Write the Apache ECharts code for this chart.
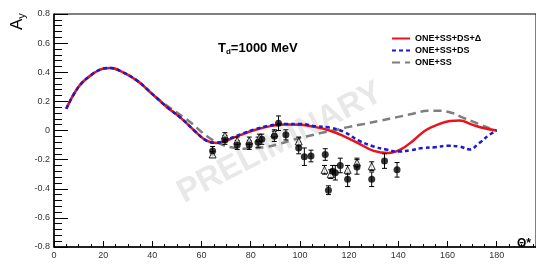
<!DOCTYPE html>
<html>
<head>
<meta charset="utf-8">
<script src="https://cdn.jsdelivr.net/npm/echarts@6/dist/echarts.min.js"></script>
<style>
  html, body { margin: 0; padding: 0; background: #fff; }
  #chart { width: 536px; height: 265px; }
</style>
</head>
<body>
<div id="chart"></div>
<script>
// theory curves: [theta, Ay]
const curveFull = [
  [5, 0.15], [10, 0.30], [15, 0.38], [20, 0.425], [23, 0.43], [28, 0.40], [34, 0.34],
  [40, 0.25], [46, 0.16], [52, 0.08], [57, 0.0], [62, -0.07], [66, -0.085], [70, -0.07],
  [76, -0.03], [82, 0.005], [88, 0.03], [94, 0.042], [100, 0.04], [106, 0.025], [112, 0.0],
  [118, -0.04], [124, -0.09], [130, -0.14], [136, -0.155], [141, -0.13], [146, -0.07],
  [151, 0.0], [156, 0.04], [161, 0.065], [165, 0.068], [170, 0.04], [175, 0.015], [180, 0.0]
];
const curveNoDelta = [
  [5, 0.15], [10, 0.30], [15, 0.38], [20, 0.425], [23, 0.43], [28, 0.40], [34, 0.34],
  [40, 0.25], [46, 0.16], [52, 0.08], [57, 0.0], [62, -0.07], [66, -0.085], [70, -0.065],
  [76, -0.025], [82, 0.01], [88, 0.035], [94, 0.045], [100, 0.045], [106, 0.03], [112, 0.02],
  [118, -0.01], [124, -0.07], [130, -0.11], [135, -0.13], [140, -0.145], [145, -0.135],
  [150, -0.12], [155, -0.115], [160, -0.105], [165, -0.11], [169, -0.13], [173, -0.085],
  [177, -0.03], [180, 0.0]
];
const curveOneSS = [
  [5, 0.15], [10, 0.30], [15, 0.38], [20, 0.425], [23, 0.43], [28, 0.40], [34, 0.34],
  [40, 0.25], [46, 0.17], [52, 0.10], [56, 0.05], [60, -0.01], [64, -0.06], [68, -0.095],
  [72, -0.115], [77, -0.125], [82, -0.122], [87, -0.11], [92, -0.09], [97, -0.065],
  [103, -0.04], [109, -0.015], [114, 0.0], [120, 0.025], [126, 0.045], [132, 0.065],
  [139, 0.09], [146, 0.115], [152, 0.135], [157, 0.135], [162, 0.12], [166, 0.09],
  [172, 0.05], [178, 0.01], [180, 0.0]
];

// measured points: [theta, Ay, error]
const pointsFilled = [
  [64.5, -0.14, 0.03], [69.5, -0.065, 0.03], [74.5, -0.10, 0.03], [79.4, -0.10, 0.03],
  [83, -0.08, 0.035], [84.5, -0.06, 0.035], [89.6, -0.04, 0.035], [91.3, 0.05, 0.05],
  [94.3, -0.03, 0.035], [99.5, -0.12, 0.04], [101.8, -0.18, 0.06], [104.5, -0.175, 0.04],
  [110.3, -0.165, 0.04], [111.6, -0.41, 0.03], [113.3, -0.28, 0.04], [114.4, -0.29, 0.05],
  [116.4, -0.24, 0.05], [119.4, -0.335, 0.05], [123.2, -0.25, 0.05], [129.2, -0.335, 0.05],
  [134.4, -0.21, 0.05], [139.5, -0.27, 0.05]
];
const pointsOpen = [
  [64.5, -0.165, 0.02], [69.5, -0.035, 0.02], [74.5, -0.07, 0.025], [79.4, -0.07, 0.025],
  [83.5, -0.05, 0.025], [89.6, -0.02, 0.025], [99.5, -0.075, 0.03], [110.0, -0.27, 0.03],
  [112.5, -0.30, 0.03], [119.4, -0.27, 0.03], [123.2, -0.22, 0.03], [129.2, -0.245, 0.03]
];

const seriesNames = ['ONE+SS+DS+\u0394', 'ONE+SS+DS', 'ONE+SS'];
const xTicks = [0, 20, 40, 60, 80, 100, 120, 140, 160, 180];
const yTicks = [-0.8, -0.6, -0.4, -0.2, 0, 0.2, 0.4, 0.6, 0.8];

const chart = echarts.init(document.getElementById('chart'));

function errorBars(data) {
  return {
    type: 'custom',
    data: data,
    z: 4,
    silent: true,
    renderItem: function (params, api) {
      const x = api.value(0), y = api.value(1), e = api.value(2);
      const lo = api.coord([x, y - e]);
      const hi = api.coord([x, y + e]);
      const style = { stroke: '#000', lineWidth: 1 };
      return {
        type: 'group',
        children: [
          { type: 'line', shape: { x1: lo[0], y1: lo[1], x2: hi[0], y2: hi[1] }, style: style },
          { type: 'line', shape: { x1: lo[0] - 2.5, y1: lo[1], x2: lo[0] + 2.5, y2: lo[1] }, style: style },
          { type: 'line', shape: { x1: hi[0] - 2.5, y1: hi[1], x2: hi[0] + 2.5, y2: hi[1] }, style: style }
        ]
      };
    }
  };
}

const font = 'Liberation Sans, Arial, sans-serif';

const option = {
  animation: false,
  grid: { left: 54, right: 0, top: 14, bottom: 18, show: true, borderColor: '#000', borderWidth: 1 },
  legend: {
    data: seriesNames,
    orient: 'vertical',
    left: 386,
    top: 29,
    itemWidth: 18,
    itemHeight: 10,
    itemGap: 3,
    itemStyle: { opacity: 0 },
    textStyle: { fontFamily: font, fontSize: 9, fontWeight: 'bold', color: '#000' }
  },
  xAxis: {
    type: 'value',
    min: 0,
    max: 196,
    interval: 20,
    axisLine: { onZero: false, lineStyle: { color: '#000', width: 1.5 } },
    axisTick: { inside: true, length: 6, lineStyle: { color: '#000' } },
    minorTick: { show: true, splitNumber: 4, length: 3, lineStyle: { color: '#000' } },
    splitLine: { show: false },
    axisLabel: {
      showMaxLabel: false,
      fontFamily: font, fontSize: 9, color: '#333', margin: 4,
      formatter: function (v) { return xTicks.indexOf(v) >= 0 ? String(v) : ''; }
    }
  },
  yAxis: {
    type: 'value',
    min: -0.8,
    max: 0.8,
    interval: 0.2,
    axisLine: { show: true, onZero: false, lineStyle: { color: '#000', width: 1.5 } },
    axisTick: { show: true, inside: true, length: 14, lineStyle: { color: '#000' } },
    minorTick: { show: true, splitNumber: 5, length: 8, lineStyle: { color: '#000' } },
    splitLine: { show: false },
    axisLabel: {
      fontFamily: font, fontSize: 9, color: '#333', margin: 4,
      formatter: function (v) {
        const r = Math.round(v * 10) / 10;
        return yTicks.indexOf(r) >= 0 ? String(r) : '';
      }
    }
  },
  graphic: [
    {
      type: 'text', z: 0, silent: true,
      x: 280, y: 143, rotation: 0.48,
      style: {
        text: 'PRELIMINARY', x: 0, y: 0, align: 'center', verticalAlign: 'middle',
        font: 'bold 33px Liberation Sans, Arial, sans-serif', fill: '#e8e8e8'
      }
    },
    {
      type: 'text', x: 218, y: 40,
      style: {
        text: '{t|T}{s|d}{t|=1000 MeV}',
        rich: {
          t: { fontFamily: font, fontSize: 13, fontWeight: 'bold', fill: '#000' },
          s: { fontFamily: font, fontSize: 8, fontWeight: 'bold', fill: '#000', padding: [8, 0, 0, 0] }
        }
      }
    },
    {
      type: 'text', x: 8, y: 30, rotation: Math.PI / 2,
      style: {
        text: '{a|A}{s|y}',
        rich: {
          a: { fontFamily: font, fontSize: 17, fill: '#000' },
          s: { fontFamily: font, fontSize: 11, fill: '#000', padding: [8, 0, 0, 0] }
        }
      }
    },
    {
      type: 'text', x: 517, y: 238,
      style: { text: '\u0398*', font: 'bold 12px Liberation Sans, Arial, sans-serif', fill: '#000' }
    }
  ],
  series: [
    {
      name: seriesNames[2], type: 'line', data: curveOneSS, smooth: 0.4, symbol: 'none', z: 2,
      lineStyle: { color: '#7f7f7f', width: 2.5, type: [8, 5] }, itemStyle: { color: '#7f7f7f' }
    },
    {
      name: seriesNames[1], type: 'line', data: curveNoDelta, smooth: 0.4, symbol: 'none', z: 3,
      lineStyle: { color: '#1a1ad0', width: 2.5, type: [4, 3] }, itemStyle: { color: '#1a1ad0' }
    },
    {
      name: seriesNames[0], type: 'line', data: curveFull, smooth: 0.4, symbol: 'none', z: 2.5,
      lineStyle: { color: '#e8141c', width: 2.5 }, itemStyle: { color: '#e8141c' }
    },
    errorBars(pointsFilled),
    errorBars(pointsOpen),
    {
      type: 'scatter', data: pointsOpen, symbol: 'triangle', symbolSize: 7, z: 5,
      itemStyle: { color: '#fff', borderColor: '#000', borderWidth: 1 }
    },
    {
      type: 'scatter', data: pointsFilled, symbol: 'circle', symbolSize: 7, z: 6,
      itemStyle: { color: '#000' }
    }
  ]
};

chart.setOption(option);
</script>
</body>
</html>
